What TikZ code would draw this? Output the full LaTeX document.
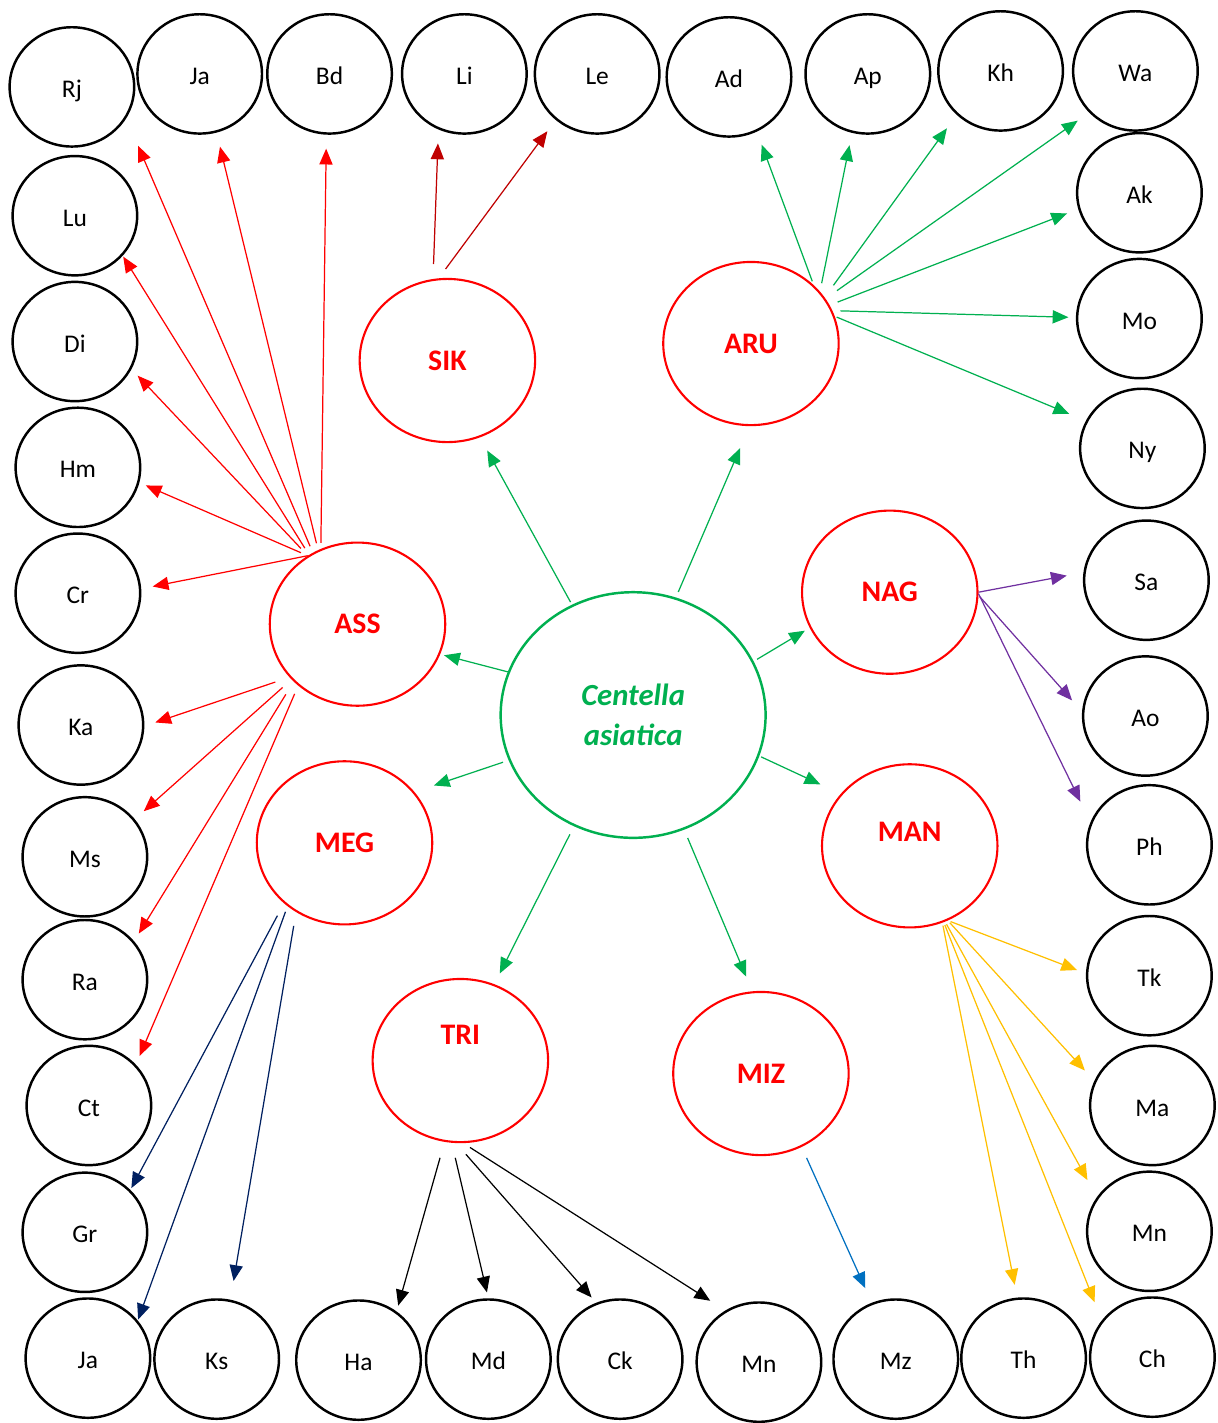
\documentclass[tikz,border=0pt]{standalone}
\usepackage{fontspec}
\setmainfont{Carlito}
\usetikzlibrary{arrows.meta,shapes.geometric}
\definecolor{cgreen}{HTML}{00B050}
\definecolor{cdred}{HTML}{C00000}
\definecolor{cpurple}{HTML}{7030A0}
\definecolor{cnavy}{HTML}{002060}
\definecolor{cblue}{HTML}{0070C0}
\definecolor{cgold}{HTML}{FFC000}
\begin{document}
\begin{tikzpicture}[x=0.02cm,y=-0.02cm,
  leaf/.style={ellipse, draw=black, line width=1.4pt, minimum width=71pt,
    minimum height=68pt, inner sep=0pt, text height=14.5pt, text depth=2.5pt,
    font=\fontsize{14.5}{17}\selectfont},
  hub/.style={ellipse, draw=red, line width=1.2pt, minimum width=100pt,
    minimum height=93pt, inner sep=0pt, text=red,
    font=\fontsize{17}{20}\selectfont\bfseries},
  hubtext/.style={text=red, font=\fontsize{17}{20}\selectfont\bfseries},
  core/.style={ellipse, draw=cgreen, line width=1.4pt, minimum width=151pt,
    minimum height=140pt, inner sep=0pt, text=cgreen, align=center,
    font=\fontsize{17.5}{22.5}\selectfont\bfseries\itshape},
  link/.style={draw=#1, line width=0.7pt, -{Triangle[length=9pt,width=7.5pt]}},
  tgap/.style={shorten >=#1*0.569pt},
  sgap/.style={shorten <=#1*0.569pt}]

\fill[white] (0,0) rectangle (1219,1423);

% ---- outer ring: top row
\node[leaf] (Rj)  at (72,87)   {Rj};
\node[leaf] (Ja1) at (200,74)  {Ja};
\node[leaf] (Bd)  at (330,74)  {Bd};
\node[leaf] (Li)  at (465,74)  {Li};
\node[leaf] (Le)  at (598,74)  {Le};
\node[leaf] (Ad)  at (730,77)  {Ad};
\node[leaf] (Ap)  at (869,74)  {Ap};
\node[leaf] (Kh)  at (1002,71) {Kh};
\node[leaf] (Wa)  at (1137,71) {Wa};
% ---- right column
\node[leaf] (Ak)  at (1141,193)  {Ak};
\node[leaf] (Mo)  at (1141,319)  {Mo};
\node[leaf] (Ny)  at (1144,449)  {Ny};
\node[leaf] (Sa)  at (1148,581)  {Sa};
\node[leaf] (Ao)  at (1147,717)  {Ao};
\node[leaf] (Ph)  at (1151,846)  {Ph};
\node[leaf] (Tk)  at (1151,977)  {Tk};
\node[leaf] (Ma)  at (1154,1107) {Ma};
\node[leaf] (Mn2) at (1151,1233) {Mn};
\node[leaf] (Ch)  at (1154,1359) {Ch};
% ---- left column
\node[leaf] (Lu)  at (75,216)   {Lu};
\node[leaf] (Di)  at (75,342)   {Di};
\node[leaf] (Hm)  at (78,468)   {Hm};
\node[leaf] (Cr)  at (78,594)   {Cr};
\node[leaf] (Ka)  at (81,726)   {Ka};
\node[leaf] (Ms)  at (85,858)   {Ms};
\node[leaf] (Ra)  at (85,981)   {Ra};
\node[leaf] (Ct)  at (89,1107)  {Ct};
\node[leaf] (Gr)  at (85,1234)  {Gr};
\node[leaf] (Ja2) at (88,1360)  {Ja};
% ---- bottom row
\node[leaf] (Ks)  at (217,1361) {Ks};
\node[leaf] (Ha)  at (359,1362) {Ha};
\node[leaf] (Md)  at (489,1361) {Md};
\node[leaf] (Ck)  at (621,1361) {Ck};
\node[leaf] (Mn1) at (760,1364) {Mn};
\node[leaf] (Mz)  at (897,1361) {Mz};
\node[leaf] (Th)  at (1025,1360) {Th};

% ---- regional hubs
\node[hub] (SIK) at (448,361)  {SIK};
\node[hub] (ARU) at (752,344)  {ARU};
\node[hub] (ASS) at (358,625)  {ASS};
\node[hub] (NAG) at (891,593)  {NAG};
\node[hub] (MEG) at (345,844)  {MEG};
\node[hub, label={[hubtext, yshift=8pt]center:MAN}] (MAN) at (911,847) {};
\node[hub, label={[hubtext, yshift=14.8pt]center:TRI}] (TRI) at (461,1062) {};
\node[hub] (MIZ) at (762,1075) {MIZ};

% ---- centre
\node[core] (C) at (634,716) {Centella\\asiatica};

% ---- centre to hubs
\draw[link=cgreen, sgap=3, tgap=15]   (C.119.7) -- (SIK.-67.5);
\draw[link=cgreen, sgap=6, tgap=24]   (C.70.3) -- (ARU.-91);
\draw[link=cgreen, tgap=4]            (C.161.2) -- (ASS.-20.4);
\draw[link=cgreen, sgap=4, tgap=5.6]  (C.24.9) -- (NAG.-156.5);
\draw[link=cgreen, sgap=6, tgap=20.5] (C.-160.6) -- (MEG.36.8);
\draw[link=cgreen, sgap=2, tgap=22.5] (C.-18.7) -- (MAN.143);
\draw[link=cgreen, sgap=9, tgap=12]   (C.-118.3) -- (TRI.66.2);
\draw[link=cgreen, sgap=9, tgap=16]   (C.-66.3) -- (MIZ.96);

% ---- ASS
\draw[link=red, sgap=7, tgap=30]    (ASS.122) -- (Rj.-30.5);
\draw[link=red, sgap=7, tgap=14.5]  (ASS.118) -- (Ja1.-74);
\draw[link=red, sgap=6, tgap=14]    (ASS.116.6) -- (Bd.-93);
\draw[link=red, sgap=8, tgap=1]     (ASS.125) -- (Lu.-40);
\draw[link=red, sgap=10, tgap=9]    (ASS.126.7) -- (Di.-26.2);
\draw[link=red, sgap=7.5, tgap=7]   (ASS.126) -- (Hm.-14.2);
\draw[link=red, tgap=11.7]          (ASS.126.4) -- (Cr.4);
\draw[link=red, sgap=15, tgap=11.5] (ASS.-142.7) -- (Ka.-1);
\draw[link=red, sgap=12, tgap=12]   (ASS.-140.4) -- (Ms.37);
\draw[link=red, sgap=15, tgap=9]    (ASS.-138.2) -- (Ra.38.4);
\draw[link=red, sgap=9, tgap=9.5]   (ASS.-134.6) -- (Ct.41.7);

% ---- SIK
\draw[link=cdred, sgap=15, tgap=14]   (SIK.100.6) -- (Li.-115.4);
\draw[link=cdred, sgap=11.5, tgap=14] (SIK.96.7) -- (Le.-132.4);

% ---- ARU
\draw[link=cgreen, sgap=4, tgap=14]     (ARU.43.2) -- (Ad.-63.6);
\draw[link=cgreen, sgap=8.5, tgap=12.6] (ARU.37.2) -- (Ap.-105.9);
\draw[link=cgreen, sgap=15, tgap=16.6]  (ARU.32.9) -- (Kh.-135);
\draw[link=cgreen, sgap=14, tgap=14]    (ARU.31.9) -- (Wa.-138);
\draw[link=cgreen, sgap=8.6, tgap=12]   (ARU.26.8) -- (Ak.-165.2);
\draw[link=cgreen, sgap=8, tgap=7.5]    (ARU.22.2) -- (Mo.179.2);
\draw[link=cgreen, sgap=2, tgap=18]     (ARU.18.2) -- (Ny.154.9);

% ---- NAG
\draw[link=cpurple, tgap=17]          (NAG.0) -- (Sa.173.6);
\draw[link=cpurple, sgap=2, tgap=15]  (NAG.-2.5) -- (Ao.176.5);
\draw[link=cpurple, tgap=23]          (NAG.-1) -- (Ph.159.8);

% ---- MEG
\draw[link=cnavy, sgap=14, tgap=2]    (MEG.-135.8) -- (Gr.43.7);
\draw[link=cnavy, sgap=6, tgap=1]     (MEG.-132.3) -- (Ja2.37.2);
\draw[link=cnavy, sgap=14, tgap=19]   (MEG.-125.5) -- (Ks.77.5);

% ---- TRI
\draw[link=black, sgap=16.6, tgap=6] (TRI.-101.1) -- (Ha.52.3);
\draw[link=black, sgap=15.5, tgap=6] (TRI.-96.5) -- (Md.90);
\draw[link=black, sgap=15, tgap=7]   (TRI.-93) -- (Ck.113.3);
\draw[link=black, sgap=8, tgap=18]   (TRI.-88.7) -- (Mn1.123);

% ---- MIZ
\draw[link=cblue, sgap=12, tgap=16] (MIZ.-61.8) -- (Mz.113.9);

% ---- MAN
\draw[link=cgold, sgap=3, tgap=9.5]  (MAN.-63.1) -- (Tk.178.4);
\draw[link=cgold, sgap=3, tgap=14]   (MAN.-63.4) -- (Ma.157.6);
\draw[link=cgold, sgap=3, tgap=19.5] (MAN.-65.2) -- (Mn2.147.2);
\draw[link=cgold, sgap=3, tgap=13]   (MAN.-67.9) -- (Th.96);
\draw[link=cgold, sgap=3, tgap=19.5] (MAN.-66.4) -- (Ch.144);

\end{tikzpicture}
\end{document}
